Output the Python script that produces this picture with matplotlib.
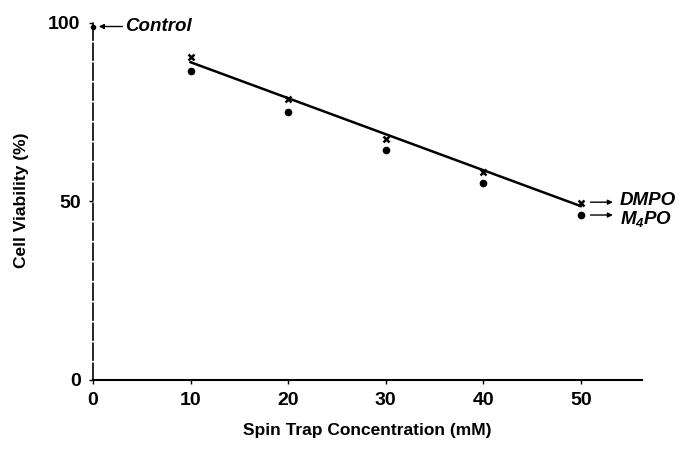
import matplotlib
matplotlib.use("Agg")
import matplotlib.pyplot as plt

conc = [10, 20, 30, 40, 50]
dmpo = [90.5, 78.7, 67.5, 58.2, 49.5]
m4po = [86.5, 75.0, 64.4, 55.1, 46.2]
control_x = [0]
control_y = [99]
line_x = [10, 50]
line_y = [89.0, 48.7]
xticks = [0, 10, 20, 30, 40, 50]
yticks = [0, 50, 100]

plt.rcParams['font.family'] = ['Liberation Sans', 'DejaVu Sans']
plt.rcParams['mathtext.fontset'] = 'custom'
plt.rcParams['mathtext.it'] = 'Liberation Sans:italic:bold'
plt.rcParams['mathtext.rm'] = 'Liberation Sans:italic:bold'
plt.rcParams['mathtext.bf'] = 'Liberation Sans:italic:bold'

fig = plt.figure(figsize=(6.89, 4.49), dpi=100)
ax = fig.add_axes([0.135, 0.1537, 0.797, 0.80])

ax.plot(line_x, line_y, color='black', lw=1.8)
ax.plot(conc, dmpo, linestyle='none', marker='x', ms=5, mew=1.8, color='black')
ax.plot(conc, m4po, linestyle='none', marker='o', ms=4.5, color='black')
ax.plot(control_x, control_y, linestyle='none', marker='o', ms=3, color='black', clip_on=False)

ax.set_xlim(0, 56.3)
ax.set_ylim(0, 100.6)
ax.set_xticks(xticks)
ax.set_yticks(yticks)
ax.tick_params(axis='both', labelsize=14, length=3, width=1, direction='out', pad=6)
for lab in ax.get_xticklabels() + ax.get_yticklabels():
    lab.set_fontweight('bold')

for s in ['top', 'right']:
    ax.spines[s].set_visible(False)
ax.spines['left'].set_linestyle((0, (10, 2)))
ax.spines['left'].set_linewidth(1.2)
ax.spines['bottom'].set_linewidth(1.5)

ax.set_xlabel('Spin Trap Concentration (mM)', fontsize=12.5, fontweight='bold', labelpad=10)
ax.set_ylabel('Cell Viability (%)', fontsize=12.5, fontweight='bold', labelpad=14)

arrow = dict(arrowstyle='-|>', color='black', lw=1, mutation_scale=7, shrinkA=0, shrinkB=0)
ax.annotate('Control', xy=(0.6, 99), xytext=(3.3, 99), fontsize=13.5, fontweight='bold',
            fontstyle='italic', va='center', ha='left', arrowprops=arrow)

# right-hand labels with arrows pointing toward the text
ax.annotate('', xy=(53.3, dmpo[-1] + 0.3), xytext=(51.0, dmpo[-1] + 0.3),
            annotation_clip=False, arrowprops=arrow)
ax.annotate('', xy=(53.3, m4po[-1]), xytext=(51.0, m4po[-1]),
            annotation_clip=False, arrowprops=arrow)
ax.text(54.0, dmpo[-1] + 0.9, 'DMPO', fontsize=13.5, fontweight='bold', fontstyle='italic',
        va='center', ha='left', clip_on=False)
ax.text(54.0, m4po[-1] - 1.0, r'$M_4PO$', fontsize=13.5, va='center', ha='left', clip_on=False)

fig.savefig('out.png', dpi=100)
